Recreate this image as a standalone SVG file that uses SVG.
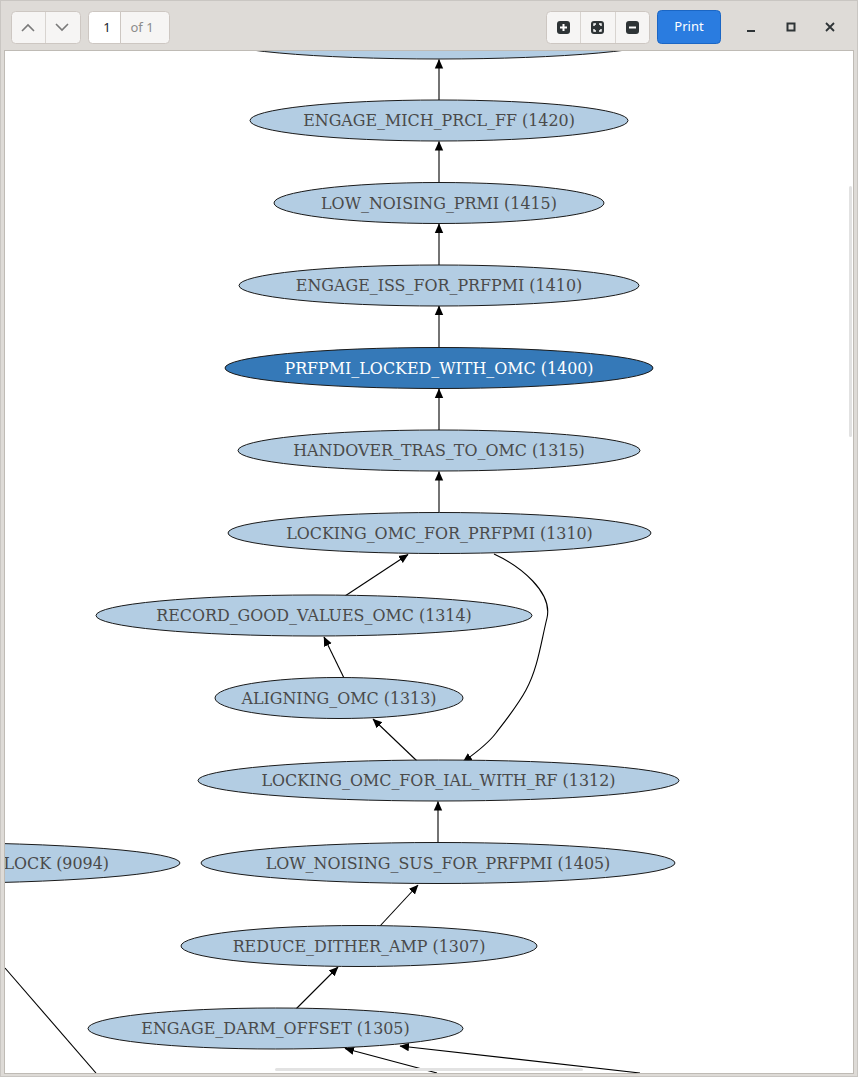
<svg xmlns="http://www.w3.org/2000/svg" width="858" height="1077" viewBox="0 0 858 1077">
<style>
.bg{fill:#dedbd7}
.page{fill:#ffffff}
.n ellipse{fill:#b3cde3;stroke:#1a1a1a;stroke-width:1}
.n text{font-family:"DejaVu Serif","Liberation Serif",serif;font-size:15.9px;fill:#4a4a4a;text-anchor:middle}
.hl ellipse{fill:#3579b8}
.hl text{fill:#ffffff}
.e path,.e line{stroke:#000;stroke-width:1.1;fill:none}
.btn{fill:#f6f5f4;stroke:#cdc7c2;stroke-width:1}
.ui{font-family:"Noto Sans","DejaVu Sans",sans-serif;font-size:13px}
</style>
<defs>
<marker id="ah" markerWidth="10" markerHeight="10" refX="9" refY="5" orient="auto" markerUnits="userSpaceOnUse">
<path d="M0,0.8 L9.5,5 L0,9.2 Z" fill="#000"/>
</marker>
<clipPath id="pg"><rect x="5" y="51" width="848" height="1022"/></clipPath>
</defs>
<rect x="0" y="0" width="858" height="1077" class="bg"/>
<rect x="0.5" y="0.5" width="857" height="1076" fill="none" stroke="#c9c6c2"/>
<rect x="4" y="50" width="850" height="1024" fill="#bfbbb5"/>
<rect x="5" y="51" width="848" height="1022" class="page"/>

<g id="toolbar">
<rect x="11.5" y="11.5" width="69" height="32" rx="4" class="btn"/>
<line x1="45.5" y1="12" x2="45.5" y2="43" stroke="#d8d4d0"/>
<path d="M22,31 L28,25 L34,31" fill="none" stroke="#7a7a7a" stroke-width="1.6"/>
<path d="M56,24 L62,30 L68,24" fill="none" stroke="#7a7a7a" stroke-width="1.6"/>
<rect x="88.5" y="11.5" width="81" height="32" rx="4" class="btn"/>
<path d="M92.5,11.5 H120.5 V43.5 H92.5 A4,4 0 0 1 88.5,39.5 V15.5 A4,4 0 0 1 92.5,11.5 Z" fill="#ffffff" stroke="#cdc7c2"/>
<text x="107" y="32" class="ui" fill="#1a1a2a" text-anchor="middle">1</text>
<text x="142" y="32" class="ui" fill="#8c8c8c" text-anchor="middle">of 1</text>
<rect x="546.5" y="11.5" width="103" height="32" rx="4" class="btn"/>
<line x1="580.5" y1="12" x2="580.5" y2="43" stroke="#d8d4d0"/>
<line x1="615.5" y1="12" x2="615.5" y2="43" stroke="#d8d4d0"/>
<rect x="557" y="21" width="13" height="13" rx="3" fill="#2e3436"/>
<path d="M563.5,24 V31 M560,27.5 H567" stroke="#fff" stroke-width="2"/>
<rect x="591" y="21" width="13" height="13" rx="3" fill="#2e3436"/>
<path d="M594,26 V24 H596 M599,24 H601 V26 M601,29 V31 H599 M596,31 H594 V29" stroke="#fff" stroke-width="1.4" fill="none"/>
<rect x="626" y="21" width="13" height="13" rx="3" fill="#2e3436"/>
<path d="M629,27.5 H636" stroke="#fff" stroke-width="2"/>
<rect x="657.5" y="10.5" width="63" height="33" rx="4" fill="#2a7ce0" stroke="#1b66c4"/>
<text x="689" y="31" class="ui" fill="#ffffff" text-anchor="middle">Print</text>
<path d="M747,31 H755" stroke="#2e3436" stroke-width="2"/>
<rect x="787.5" y="23.5" width="7" height="7" fill="none" stroke="#2e3436" stroke-width="2"/>
<path d="M826,23 L834,31 M834,23 L826,31" stroke="#2e3436" stroke-width="1.8"/>
</g>

<g clip-path="url(#pg)">
<g id="edges" class="e">
<line x1="439" y1="100" x2="439" y2="59.5" marker-end="url(#ah)"/>
<line x1="439" y1="183" x2="439" y2="141.5" marker-end="url(#ah)"/>
<line x1="439" y1="265" x2="439" y2="224" marker-end="url(#ah)"/>
<line x1="439" y1="347.5" x2="439" y2="306" marker-end="url(#ah)"/>
<line x1="439" y1="430" x2="439" y2="389" marker-end="url(#ah)"/>
<line x1="439" y1="513" x2="439" y2="471.5" marker-end="url(#ah)"/>
<line x1="345" y1="596" x2="408" y2="554.5" marker-end="url(#ah)"/>
<line x1="344" y1="678" x2="324" y2="637" marker-end="url(#ah)"/>
<line x1="417" y1="761" x2="373" y2="719" marker-end="url(#ah)"/>
<path d="M494,554 C520,566 553,592 547,618 C541,642 538,668 526,690 C518,705 506,720 496,733 C487,745 474,754 463,762" marker-end="url(#ah)"/>
<line x1="438" y1="843" x2="438" y2="801.5" marker-end="url(#ah)"/>
<line x1="380" y1="926" x2="418" y2="885" marker-end="url(#ah)"/>
<line x1="296" y1="1009" x2="338" y2="967" marker-end="url(#ah)"/>
<line x1="437" y1="1073" x2="345" y2="1048.5" marker-end="url(#ah)"/>
<line x1="640" y1="1073" x2="400" y2="1046" marker-end="url(#ah)"/>
<line x1="5" y1="968" x2="96" y2="1073"/>
</g>

<g id="n_top" class="n"><ellipse cx="439" cy="38.5" rx="226" ry="20.5"/></g>
<g id="n1420" class="n"><ellipse cx="439" cy="120.5" rx="189" ry="20.5"/><text x="439" y="126">ENGAGE_MICH_PRCL_FF (1420)</text></g>
<g id="n1415" class="n"><ellipse cx="439" cy="203" rx="165" ry="20.5"/><text x="439" y="208.5">LOW_NOISING_PRMI (1415)</text></g>
<g id="n1410" class="n"><ellipse cx="439" cy="285.5" rx="200" ry="20.5"/><text x="439" y="291">ENGAGE_ISS_FOR_PRFPMI (1410)</text></g>
<g id="n1400" class="n hl"><ellipse cx="439" cy="368" rx="214" ry="20.5"/><text x="439" y="373.5">PRFPMI_LOCKED_WITH_OMC (1400)</text></g>
<g id="n1315" class="n"><ellipse cx="439" cy="450.5" rx="201" ry="20.5"/><text x="439" y="456">HANDOVER_TRAS_TO_OMC (1315)</text></g>
<g id="n1310" class="n"><ellipse cx="439.5" cy="533" rx="211.5" ry="20.5"/><text x="439.5" y="538.5">LOCKING_OMC_FOR_PRFPMI (1310)</text></g>
<g id="n1314" class="n"><ellipse cx="314" cy="615.5" rx="218" ry="20.5"/><text x="314" y="621">RECORD_GOOD_VALUES_OMC (1314)</text></g>
<g id="n1313" class="n"><ellipse cx="339" cy="698" rx="124" ry="20.5"/><text x="339" y="703.5">ALIGNING_OMC (1313)</text></g>
<g id="n1312" class="n"><ellipse cx="438.5" cy="780.5" rx="240.5" ry="20.5"/><text x="438.5" y="786">LOCKING_OMC_FOR_IAL_WITH_RF (1312)</text></g>
<g id="n9094" class="n"><ellipse cx="-80" cy="863" rx="260" ry="20.5"/><text x="109" y="868.5" style="text-anchor:end">LOCK (9094)</text></g>
<g id="n1405" class="n"><ellipse cx="438" cy="863" rx="237" ry="20.5"/><text x="438" y="868.5">LOW_NOISING_SUS_FOR_PRFPMI (1405)</text></g>
<g id="n1307" class="n"><ellipse cx="359" cy="946" rx="178" ry="20.5"/><text x="359" y="951.5">REDUCE_DITHER_AMP (1307)</text></g>
<g id="n1305" class="n"><ellipse cx="275.5" cy="1028.5" rx="187.5" ry="20.5"/><text x="275.5" y="1034">ENGAGE_DARM_OFFSET (1305)</text></g>
</g>

<rect x="849" y="186" width="3" height="251" rx="1.5" fill="#e2e2e2"/>
<rect x="275" y="1068" width="308" height="3" rx="1.5" fill="#e2e2e2"/>
</svg>
